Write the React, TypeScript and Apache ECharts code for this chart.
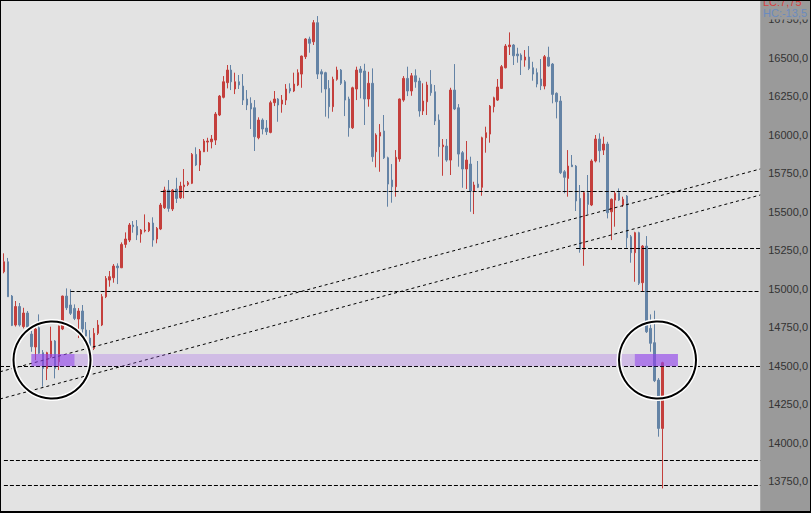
import React, { useEffect, useRef } from 'react';
import * as echarts from 'echarts';

const opens = [15323,15110,15175,14952,14764,14884,14754,14842,14705,14621,14746,14584,14482,14558,14660,14525,14738,14952,14894,14872,14803,14855,14731,14679,14612,14710,14764,14948,15056,15071,15147,15136,15288,15316,15414,15405,15355,15375,15377,15427,15323,15388,15526,15641,15518,15648,15591,15663,15678,15685,15873,15804,15890,15953,15955,15966,16129,16244,16339,16421,16298,16345,16317,16233,16205,16176,15981,16096,16044,16016,16209,16233,16200,16226,16302,16285,16324,16395,16508,16623,16605,16729,16410,16404,16302,16183,16361,16421,16345,16233,16046,16298,16428,16415,16233,16335,15890,15992,16025,15851,15706,15663,15843,16226,16367,16285,16384,16350,16155,16215,16328,16280,16096,15923,15927,15836,16291,16176,15884,15778,15810,15635,15680,15659,15981,16005,16183,16226,16302,16436,16573,16584,16525,16519,16486,16506,16436,16404,16363,16317,16504,16460,16270,16220,15760,15717,15804,15797,15587,15256,15624,15544,15830,15973,15901,15940,15500,15576,15624,15544,15602,15338,15234,15364,15039,15277,14742,14649,14406,14092];
const closes = [15135,15175,14948,14761,14884,14764,14842,14751,14623,14738,14580,14482,14584,14660,14482,14757,14952,14876,14840,14807,14855,14738,14692,14627,14710,14764,14948,15067,15078,15147,15136,15288,15323,15414,15403,15349,15381,15381,15427,15316,15392,15544,15641,15522,15641,15587,15667,15674,15689,15873,15804,15895,15960,15960,15973,16135,16252,16345,16421,16345,16345,16324,16226,16194,16168,15988,16096,16038,16020,16209,16233,16194,16226,16298,16285,16330,16404,16512,16623,16595,16729,16395,16395,16298,16183,16361,16421,16335,16226,16046,16306,16421,16406,16233,16335,15858,15999,16016,15851,15680,15663,15854,16233,16367,16285,16384,16345,16155,16220,16324,16274,16090,15923,15934,15836,16291,16168,15875,15778,15836,15635,15674,15659,15981,16014,16187,16241,16311,16443,16577,16584,16514,16514,16486,16506,16432,16395,16330,16319,16508,16447,16263,16215,15754,15724,15797,15793,15570,15256,15624,15548,15830,15973,15897,15940,15494,15581,15620,15576,15581,15331,15234,15364,15035,15277,14720,14645,14402,14092,14519];
const lows = [15122,15100,14946,14757,14754,14754,14742,14738,14590,14536,14575,14363,14406,14549,14417,14471,14731,14861,14829,14796,14679,14660,14653,14588,14601,14699,14757,14939,15013,15039,15030,15134,15266,15303,15364,15316,15299,15366,15368,15273,15295,15381,15518,15500,15505,15557,15583,15587,15667,15680,15797,15765,15888,15890,15912,15934,16122,16237,16302,16291,16265,16298,16194,16161,16038,15895,15971,16003,15999,16010,16187,16085,16144,16194,16270,16278,16317,16306,16493,16534,16584,16363,16274,16118,16107,16150,16352,16324,16122,15988,16038,16226,16237,16064,16183,15825,15789,15760,15843,15533,15559,15598,15825,16215,16252,16254,16306,16118,16129,16129,16254,16064,15858,15734,15825,15739,16161,15793,15656,15648,15500,15485,15654,15604,15884,15949,16146,16220,16298,16432,16519,16454,16469,16389,16443,16421,16352,16309,16291,16296,16443,16205,16107,15745,15620,15598,15791,15505,15234,15149,15483,15537,15821,15821,15869,15457,15316,15403,15570,15531,15266,15169,15045,15024,14980,14712,14590,14393,14038,13702];
const highs = [15343,15230,15200,14959,14920,14907,14876,14855,14725,14757,14833,14601,14590,14753,14666,14760,14955,15002,14996,14898,14874,14894,14783,14731,14744,14796,14965,15082,15115,15160,15165,15301,15366,15427,15440,15446,15388,15483,15433,15464,15401,15557,15663,15706,15648,15721,15695,15778,15700,15882,15919,15908,15973,15981,15999,16148,16259,16382,16454,16454,16404,16389,16395,16291,16244,16226,16114,16107,16096,16222,16285,16239,16259,16330,16335,16404,16426,16515,16629,16638,16746,16772,16426,16410,16356,16378,16443,16428,16356,16248,16313,16443,16447,16462,16410,16432,16010,16070,16129,15858,15810,15901,16236,16382,16443,16402,16426,16371,16335,16345,16421,16324,16133,15973,15973,16306,16460,16200,15895,15960,15858,15695,15830,15988,16053,16194,16248,16363,16454,16590,16666,16590,16566,16530,16551,16577,16475,16432,16493,16519,16573,16467,16276,16252,15771,15901,15869,15804,15674,15635,15739,15841,15999,16010,15988,15955,15587,15635,15652,15598,15609,15349,15370,15370,15284,15342,14833,14857,14419,14525];

const SLOTS = 195;
const categories = Array.from({ length: SLOTS }, (_, i) => String(i));
const tickValues = [13750, 14000, 14250, 14500, 14750, 15000, 15250, 15500, 15750, 16000, 16250, 16500, 16750];
const tickLabelFmt = (v: number) => v.toFixed(1).replace('.', ',');
const yMin = 13542;
const yMax = 16876.5;

const levelPrices = [15635, 15262, 14983, 14496, 13888, 13721];
const levelStarts = [41, 147, 18, 0, 1, 1];
const trendStart = [14460, 14283];
const trendEnd = [15778, 15609];
const zoneLow = 14496;
const zoneHigh = 14575;
const zoneRange = [8, 173];
const zoneStrong = [[8, 19], [162, 173]];

const RED = '#c43f3c';
const BLUE = '#6483a5';

export default function App() {
  const ref = useRef<HTMLDivElement>(null);
  useEffect(() => {
    if (!ref.current) return;
    const chart = echarts.init(ref.current, undefined, { renderer: 'svg' });
    const candles = opens.map((o, i) => [o, closes[i], lows[i], highs[i]]);
    const last = String(SLOTS - 1);
    const hLines = levelPrices.map((p, i) => [
      { coord: [String(levelStarts[i]), p] },
      { coord: [last, p] },
    ]);
    const tLines = trendStart.map((p, i) => [
      { coord: ['0', p], lineStyle: { type: [3, 3], width: 1, color: '#000' } },
      { coord: [last, trendEnd[i]], lineStyle: { type: [3, 3], width: 1, color: '#000' } },
    ]);
    const areas: any[] = [
      [
        { coord: [String(zoneRange[0]), zoneHigh], itemStyle: { color: 'rgba(165,100,235,0.3)' } },
        { coord: [String(zoneRange[1]), zoneLow] },
      ],
      ...zoneStrong.map(([a, b]) => [
        { coord: [String(a), zoneHigh], itemStyle: { color: 'rgba(140,60,235,0.5)' } },
        { coord: [String(b), zoneLow] },
      ]),
    ];
    const font = '11px "Liberation Sans", Arial, sans-serif';
    chart.setOption({
      animation: false,
      backgroundColor: '#9a9a9a',
      grid: {
        left: 0,
        right: 49,
        top: 0,
        bottom: 0,
        show: true,
        backgroundColor: '#e3e3e3',
        borderWidth: 0,
      },
      xAxis: { type: 'category', data: categories, boundaryGap: false, show: false },
      yAxis: {
        type: 'value',
        position: 'right',
        min: yMin,
        max: yMax,
        axisLine: { show: false },
        axisTick: { show: false },
        splitLine: { show: false },
        axisLabel: {
          color: '#333333',
          fontSize: 11,
          fontFamily: '"Liberation Sans", Arial, sans-serif',
          margin: 8,
          customValues: tickValues,
          showMinLabel: true,
          showMaxLabel: true,
          formatter: tickLabelFmt,
        },
      },
      series: [
        {
          type: 'candlestick',
          data: candles,
          barWidth: 2,
          itemStyle: {
            color: RED,
            color0: BLUE,
            borderColor: RED,
            borderColor0: BLUE,
            borderWidth: 1,
          },
          markLine: {
            silent: true,
            symbol: ['none', 'none'],
            label: { show: false },
            lineStyle: { type: [4, 2], color: '#000', width: 1 },
            data: [...hLines, ...tLines],
          },
          markArea: {
            silent: true,
            z: 10,
            data: areas,
          },
        },
      ],
      graphic: [
        { type: 'rect', shape: { x: 762, y: 6, width: 48, height: 13.5 }, style: { fill: '#9a9a9a' }, z: 50, zlevel: 1 },
        { type: 'text', x: 763, y: 2, z: 51, zlevel: 1, style: { text: 'LC:7,75', fill: '#d8413f', font, textVerticalAlign: 'middle', verticalAlign: 'middle' } },
        { type: 'text', x: 763, y: 13, z: 51, zlevel: 1, style: { text: 'HC:-13,5', fill: '#6a8bbf', font, textVerticalAlign: 'middle', verticalAlign: 'middle' } },
        { type: 'circle', shape: { cx: 52, cy: 360, r: 38.5 }, style: { fill: 'none', stroke: '#ffffff', lineWidth: 5 }, z: 60, zlevel: 1 },
        { type: 'circle', shape: { cx: 52, cy: 360, r: 38.5 }, style: { fill: 'none', stroke: '#000000', lineWidth: 2 }, z: 61, zlevel: 1 },
        { type: 'circle', shape: { cx: 657.5, cy: 360, r: 38.5 }, style: { fill: 'none', stroke: '#ffffff', lineWidth: 5 }, z: 60, zlevel: 1 },
        { type: 'circle', shape: { cx: 657.5, cy: 360, r: 38.5 }, style: { fill: 'none', stroke: '#000000', lineWidth: 2 }, z: 61, zlevel: 1 },
        { type: 'rect', shape: { x: 0, y: 0, width: 811, height: 1 }, style: { fill: '#000' }, z: 100, zlevel: 1 },
        { type: 'rect', shape: { x: 0, y: 0, width: 1, height: 513 }, style: { fill: '#000' }, z: 100, zlevel: 1 },
        { type: 'rect', shape: { x: 810, y: 0, width: 1, height: 513 }, style: { fill: '#000' }, z: 100, zlevel: 1 },
        { type: 'rect', shape: { x: 0, y: 511, width: 811, height: 2 }, style: { fill: '#000' }, z: 100, zlevel: 1 },
      ],
    });
    return () => chart.dispose();
  }, []);
  return (
    <div
      ref={ref}
      style={{ position: 'fixed', left: 0, top: 0, width: 811, height: 513 }}
    />
  );
}
